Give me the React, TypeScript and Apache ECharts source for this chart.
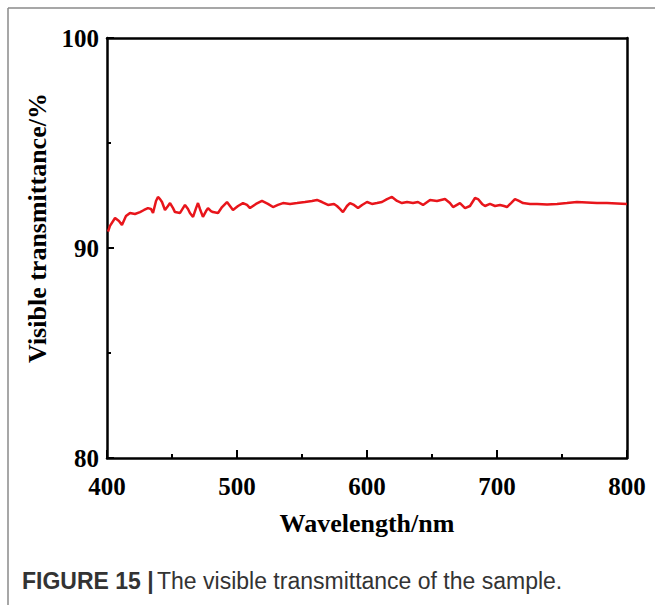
import React, { useEffect, useRef } from "react";
import * as echarts from "echarts";

const wavelength = [
  400.8, 402.3, 406.2, 409.2, 411.5, 414.6, 417.7, 421.5, 425.4, 428.5, 431.5, 433.8, 435.4, 437.7, 439.2,
  440.8, 442.3, 444.6, 446.9, 448.5, 450.8, 452.3, 456.2, 460.0, 462.3, 463.8, 466.2, 468.5, 470.0, 471.5,
  473.8, 476.2, 477.7, 480.0, 481.5, 485.4, 488.5, 492.3, 494.6, 496.9, 500.8, 504.6, 507.7, 510.0, 514.6,
  519.2, 523.8, 527.7, 531.5, 535.4, 540.8, 546.2, 552.3, 557.7, 561.5, 565.4, 570.0, 574.6, 576.9, 579.2,
  581.5, 584.6, 586.9, 590.0, 593.1, 596.2, 600.0, 603.8, 607.7, 611.5, 615.4, 619.2, 623.1, 626.9, 630.8,
  635.4, 639.2, 643.1, 648.5, 653.8, 660.0, 663.8, 666.2, 671.5, 675.4, 679.2, 683.1, 685.4, 688.5, 690.8,
  694.6, 698.5, 702.3, 705.4, 707.7, 710.8, 713.8, 716.9, 720.0, 725.4, 730.8, 738.5, 746.2, 753.8, 761.5,
  769.2, 776.9, 784.6, 792.3, 800.0,
];

const transmittance = [
  90.78, 91.05, 91.43, 91.29, 91.1, 91.52, 91.67, 91.62, 91.71, 91.81, 91.9, 91.86, 91.67, 92.24, 92.43,
  92.33, 92.19, 91.81, 92.0, 92.14, 91.9, 91.71, 91.67, 92.05, 91.86, 91.67, 91.48, 91.9, 92.14, 91.86,
  91.48, 91.76, 91.9, 91.76, 91.71, 91.67, 91.95, 92.19, 92.0, 91.81, 92.0, 92.14, 92.05, 91.9, 92.1,
  92.24, 92.1, 91.95, 92.05, 92.14, 92.1, 92.14, 92.19, 92.24, 92.29, 92.19, 92.05, 92.1, 92.0, 91.86,
  91.71, 92.0, 92.14, 92.05, 91.9, 92.05, 92.19, 92.1, 92.14, 92.19, 92.33, 92.43, 92.24, 92.14, 92.19,
  92.14, 92.19, 92.05, 92.29, 92.24, 92.33, 92.14, 91.95, 92.14, 91.9, 92.0, 92.38, 92.33, 92.1, 92.0,
  92.1, 92.0, 92.05, 92.0, 91.95, 92.14, 92.33, 92.24, 92.14, 92.1, 92.1, 92.07, 92.1, 92.14, 92.19,
  92.17, 92.14, 92.14, 92.12, 92.1,
];

const xTicks = [400, 500, 600, 700, 800];
const yTicks = [80, 90, 100];

const SERIF = "'Liberation Serif', 'Times New Roman', serif";
const SANS = "'Liberation Sans', Arial, sans-serif";

export default function App() {
  const ref = useRef<HTMLDivElement>(null);

  useEffect(() => {
    document.body.style.margin = "0";
    if (!ref.current) return;
    const chart = echarts.init(ref.current, undefined, { renderer: "svg" });
    const axisLine = { show: true, lineStyle: { color: "#000", width: 2.5 } };
    const labelStyle = {
      color: "#000",
      fontFamily: SERIF,
      fontWeight: "bold" as const,
      fontSize: 25,
    };
    chart.setOption({
      animation: false,
      backgroundColor: "#fff",
      grid: { left: 107, right: 28, top: 38, bottom: 147, containLabel: false },
      xAxis: [
        {
          type: "value",
          min: xTicks[0],
          max: xTicks[xTicks.length - 1],
          interval: 100,
          name: "Wavelength/nm",
          nameLocation: "middle",
          nameGap: 52,
          nameTextStyle: { color: "#000", fontFamily: SERIF, fontWeight: "bold", fontSize: 26 },
          axisLine,
          axisTick: { show: true, inside: true, length: 8, lineStyle: { color: "#000", width: 2 } },
          minorTick: { show: true, splitNumber: 2, length: 4, lineStyle: { color: "#000", width: 2 } },
          axisLabel: { ...labelStyle, margin: 16 },
          splitLine: { show: false },
        },
        {
          type: "value",
          position: "top",
          min: 400,
          max: 800,
          axisLine,
          axisTick: { show: false },
          axisLabel: { show: false },
          splitLine: { show: false },
        },
      ],
      yAxis: [
        {
          type: "value",
          min: yTicks[0],
          max: yTicks[yTicks.length - 1],
          interval: 10,
          name: "Visible transmittance/%",
          nameLocation: "middle",
          nameGap: 56,
          nameTextStyle: {
            color: "#000",
            fontFamily: SERIF,
            fontWeight: "bold",
            fontSize: 26,
            padding: [0, 0, 0, 40],
          },
          axisLine,
          axisTick: { show: true, inside: true, length: 7, lineStyle: { color: "#000", width: 2 } },
          minorTick: { show: true, splitNumber: 2, length: 4, lineStyle: { color: "#000", width: 2 } },
          axisLabel: { ...labelStyle, margin: 8 },
          splitLine: { show: false },
        },
        {
          type: "value",
          position: "right",
          min: 80,
          max: 100,
          axisLine,
          axisTick: { show: false },
          axisLabel: { show: false },
          splitLine: { show: false },
        },
      ],
      series: [
        {
          type: "line",
          data: wavelength.map((w, i) => [w, transmittance[i]]),
          showSymbol: false,
          symbol: "none",
          lineStyle: { color: "#e8151b", width: 2.5 },
          itemStyle: { color: "#e8151b" },
        },
      ],
      graphic: [
        {
          type: "line",
          shape: { x1: 8, y1: 8, x2: 655, y2: 8 },
          style: { stroke: "#8a8a8a", lineWidth: 1.5 },
        },
        {
          type: "line",
          shape: { x1: 8, y1: 8, x2: 8, y2: 605 },
          style: { stroke: "#8a8a8a", lineWidth: 1.5 },
        },
        {
          type: "text",
          left: 22,
          top: 569,
          style: {
            text: "{b|FIGURE 15 |} {n|The visible transmittance of the sample.}",
            rich: {
              b: { fontFamily: SANS, fontWeight: "bold", fontSize: 23, fill: "#333" },
              n: { fontFamily: SANS, fontSize: 23, fill: "#333" },
            },
          },
        },
      ],
    });
    return () => chart.dispose();
  }, []);

  return <div ref={ref} style={{ width: 655, height: 605 }} />;
}
